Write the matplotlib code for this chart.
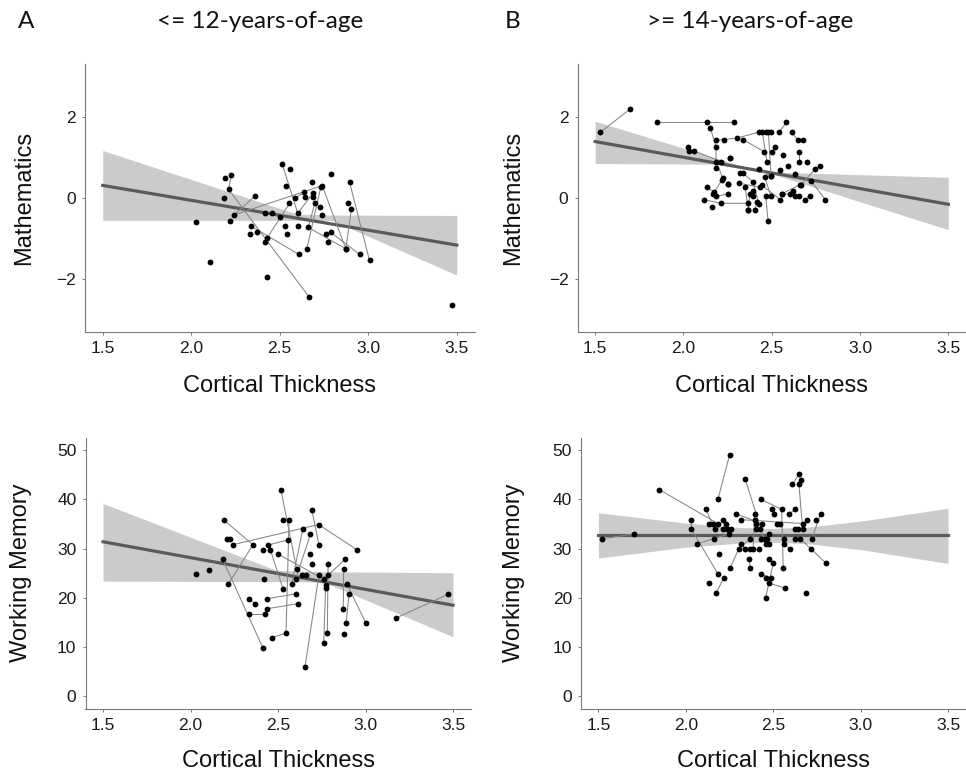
import matplotlib
matplotlib.use("Agg")
import matplotlib.pyplot as plt

# ---- data ----
# each inner list = one participant (1-3 visits, joined by a line)
young_math_x = [[2.226, 2.211, 2.664], [2.358, 2.241, 2.740, 2.873, 2.905], [2.732, 2.653],
                [2.337, 2.608], [2.427, 2.555], [2.514, 2.602, 2.689], [2.894, 3.007],
                [2.787, 2.952], [2.698, 2.661, 2.873], [2.585, 2.638],
                [2.029], [2.104], [2.188], [2.185], [2.217], [2.331], [2.369], [2.414],
                [2.426], [2.418], [2.454], [2.501], [2.559], [2.533], [2.531], [2.542],
                [2.604], [2.642], [2.681], [2.685], [2.726], [2.738], [2.787], [2.762],
                [2.770], [2.884], [3.471]]
young_math_y = [[0.568, 0.214, -2.428], [0.041, -0.420, 0.305, -1.251, -0.272], [0.272, -1.251],
                [-0.691, -1.391], [-0.996, -0.132], [0.831, -0.379, 0.132], [0.395, -1.539],
                [-0.840, -1.391], [-0.132, -0.724, -1.251], [-0.008, 0.140],
                [-0.593], [-1.564], [0.486], [0.008], [-0.568], [-0.897], [-0.840], [-1.078],
                [-1.951], [-0.379], [-0.379], [-0.461], [0.708], [0.296], [-0.691], [-0.889],
                [-0.691], [0.033], [0.387], [0.016], [-0.214], [-0.420], [0.584], [-0.881],
                [-1.078], [-0.132], [-2.626]]

old_math_x = [[1.528, 1.700], [1.850, 2.133, 2.285], [2.152, 2.185, 2.184],
              [2.187, 2.306, 2.428], [2.231], [2.027, 2.033], [2.061, 2.212], [2.265],
              [2.184, 2.223], [2.340, 2.457], [2.447, 2.472], [2.481, 2.496], [2.466], [2.496],
              [2.541, 2.583], [2.613, 2.647, 2.675], [2.521, 2.502], [2.564],
              [2.656, 2.656], [2.698], [2.592], [2.547], [2.428, 2.494],
              [2.771, 2.745, 2.666], [2.722, 2.803], [2.634], [2.216, 2.169], [2.253],
              [2.338, 2.393, 2.427], [2.319], [2.314, 2.434], [2.460, 2.496], [2.133, 2.174],
              [2.187, 2.255], [2.349, 2.368], [2.393], [2.445, 2.549],
              [2.116, 2.214, 2.366], [2.163], [2.376, 2.368], [2.404, 2.415], [2.479, 2.466],
              [2.558, 2.602, 2.622], [2.630, 2.654], [2.686, 2.717], [2.660, 2.558],
              [2.391], [2.265], [2.253]]
old_math_y = [[1.616, 2.196], [1.861, 1.861, 1.861], [1.722, 1.257, 0.751],
              [1.420, 1.478, 1.624], [1.420], [1.257, 1.159], [1.159, 0.898], [0.996],
              [0.898, 0.490], [1.429, 1.143], [1.624, 0.898], [1.624, 0.539], [1.624], [1.624],
              [1.616, 1.861], [1.616, 1.429, 1.429], [1.257, 1.143], [1.061],
              [1.135, 0.898], [0.898], [0.784], [0.686], [0.710, 0.539],
              [0.784, 0.710, 0.327], [0.424, -0.041], [0.596], [0.433, 0.106], [0.335],
              [0.612, 0.400, -0.139], [0.612], [0.367, 0.261], [0.514, 0.041], [0.261, 0.147],
              [0.041, 0.106], [0.261, -0.294], [0.180], [0.310, -0.041],
              [-0.041, -0.131, -0.131], [-0.229], [0.106, -0.294], [-0.294, -0.106], [-0.555, 0.041],
              [0.098, 0.098, 0.180], [0.041, 0.041], [-0.041, 0.041], [0.327, 0.106],
              [0.041], [0.996], [0.335]]

young_wm_x = [[2.517, 2.607], [2.563, 2.546, 2.464], [2.529], [2.694, 2.734],
              [2.241, 2.732, 2.950], [2.641, 2.578], [2.685, 2.601], [2.191, 2.357, 2.216],
              [2.209], [2.224], [2.557, 2.441], [2.414], [2.456, 2.529], [2.500, 2.761],
              [2.681], [2.184, 2.414], [2.031], [2.104], [2.418], [2.639], [2.662],
              [2.654, 2.734], [2.788, 2.883], [2.875, 2.873], [2.786, 2.782], [2.772, 2.761],
              [2.894, 3.003], [2.906, 2.889], [2.875], [2.334, 2.369], [2.435, 2.601],
              [2.439, 2.612], [2.336, 2.428], [2.694], [3.174, 3.471], [2.772]]
young_wm_y = [[41.9, 25.8], [35.8, 12.8, 11.9], [35.8], [37.8, 30.8],
              [30.8, 34.9, 29.8], [33.9, 22.8], [32.9, 23.8], [35.8, 30.8, 22.8],
              [31.9], [31.9], [31.8, 30.7], [29.8], [29.8, 21.8], [28.9, 23.8],
              [28.9], [27.8, 9.8], [24.8], [25.7], [23.8], [24.7], [24.7],
              [5.9, 24.7], [24.7, 27.8], [25.8, 17.8], [26.8, 12.8], [21.9, 10.8],
              [22.8, 14.8], [20.7, 14.8], [12.7], [19.8, 18.8], [19.8, 20.8],
              [17.8, 18.8], [16.8, 16.8], [26.8], [15.9, 20.7], [22.7]]

old_wm_x = [[1.523, 1.702], [1.849, 2.183], [2.25, 2.183], [2.031, 2.031, 2.183],
            [2.115, 2.164], [2.132, 2.155], [2.214, 2.227, 2.256], [2.212, 2.233],
            [2.162], [2.065, 2.246], [2.189], [2.216, 2.172], [2.132],
            [2.252, 2.303, 2.368], [2.286, 2.435], [2.340, 2.456], [2.393, 2.385],
            [2.393], [2.399, 2.403], [2.427], [2.431, 2.548, 2.557], [2.494], [2.502],
            [2.519, 2.540], [2.592, 2.626], [2.609, 2.647], [2.647, 2.668], [2.660],
            [2.695], [2.742], [2.771, 2.721], [2.622], [2.641], [2.315, 2.672],
            [2.315, 2.340], [2.368], [2.418], [2.431], [2.454], [2.464], [2.477],
            [2.559, 2.597], [2.626], [2.655, 2.803], [2.718], [2.363, 2.368], [2.475],
            [2.500, 2.456], [2.429, 2.489], [2.456], [2.477, 2.565], [2.685], [2.559],
            [2.477]]
old_wm_y = [[32.0, 33.0], [42.0, 35.1], [49.0, 40.0], [35.9, 34.0, 24.9],
            [38.0, 34.0], [35.1, 35.1], [35.9, 35.1, 34.0], [34.0, 34.0],
            [32.0], [31.0, 33.0], [29.0], [24.0, 20.9], [23.0],
            [26.0, 30.0, 32.0], [37.1, 35.1], [44.1, 31.0], [37.1, 30.0],
            [35.9], [35.1, 34.0], [34.0], [40.0, 38.0, 26.0], [38.0], [37.1],
            [35.1, 35.1], [37.1, 38.0], [43.1, 45.1], [43.1, 34.0], [43.9],
            [35.9], [35.9], [37.1, 32.0], [34.0], [34.0], [35.9, 35.1],
            [31.0, 30.0], [30.0], [30.0], [32.0], [32.0], [32.0], [31.0],
            [31.0, 30.0], [32.0], [32.0, 27.0], [30.0], [27.9, 26.0], [27.9],
            [27.0, 20.0], [24.9, 24.0], [24.0], [23.0, 22.0], [20.9], [32.0],
            [33.0]]

# regression lines and confidence bands
fit_x = [1.5, 3.5]
young_math_fit = [0.31, -1.16]
old_math_fit = [1.39, -0.155]
young_wm_fit = [31.4, 18.5]
old_wm_fit = [32.7, 32.7]

young_math_band_x = [1.5, 2.6, 2.8, 3.5]
young_math_band_hi = [1.17, -0.40, -0.42, -0.43]
young_math_band_lo = [-0.55, -0.55, -0.56, -1.90]

old_math_band_x = [1.5, 2.24, 2.41, 3.5]
old_math_band_hi = [1.89, 0.91, 0.65, 0.51]
old_math_band_lo = [0.85, 0.83, 0.72, -0.78]

young_wm_band_x = [1.5, 2.49, 2.76, 3.5]
young_wm_band_hi = [39.2, 25.6, 25.3, 25.1]
young_wm_band_lo = [23.4, 23.3, 23.2, 12.1]

old_wm_band_x = [1.5, 2.0, 2.3, 2.5, 2.7, 3.0, 3.5]
old_wm_band_hi = [37.3, 35.2, 34.3, 34.1, 34.4, 35.6, 38.2]
old_wm_band_lo = [28.1, 30.3, 31.1, 31.3, 31.0, 29.8, 27.0]

W, H = 966, 775
fig = plt.figure(figsize=(W / 100, H / 100), dpi=100)
plt.rcParams["font.family"] = ["Liberation Sans", "DejaVu Sans"]


def px_axes(l, t, r, b):
    return fig.add_axes([l / W, 1 - b / H, (r - l) / W, (b - t) / H])


def panel(ax, xs, ys, fit, bx, bhi, blo, ylabel, ylim, yticks, ylab_x, xlab_y):
    ax.fill_between(bx, blo, bhi, color="#cbcbcb", linewidth=0, zorder=1)
    ax.plot(fit_x, fit, color="#5a5a5a", lw=2.3, zorder=2)
    for sx, sy in zip(xs, ys):
        if len(sx) > 1:
            ax.plot(sx, sy, color="#858585", lw=0.75, zorder=3)
        ax.plot(sx, sy, "o", color="black", ms=4.2, mew=0, zorder=4)
    ax.set_xlim(1.4, 3.6)
    ax.set_ylim(*ylim)
    ax.set_xticks([1.5, 2.0, 2.5, 3.0, 3.5])
    ax.set_xticklabels(["1.5", "2.0", "2.5", "3.0", "3.5"])
    ax.set_yticks(yticks)
    ax.set_yticklabels(["\u22122" if t == -2 else str(t) for t in yticks])
    for s in ["top", "right"]:
        ax.spines[s].set_visible(False)
    for s in ["left", "bottom"]:
        ax.spines[s].set_color("#7a7a7a")
        ax.spines[s].set_linewidth(0.8)
    ax.tick_params(length=2.5, width=0.7, color="#7a7a7a", labelsize=12.5,
                   labelcolor="#1a1a1a", pad=4)
    ax.set_xlabel("Cortical Thickness", fontsize=17, color="#111111")
    ax.xaxis.set_label_coords(0.5, xlab_y)
    ax.set_ylabel(ylabel, fontsize=17, color="#111111")
    ax.yaxis.set_label_coords(ylab_x, 0.5)


ax1 = px_axes(85, 64, 474.5, 332)
panel(ax1, young_math_x, young_math_y, young_math_fit, young_math_band_x,
      young_math_band_hi, young_math_band_lo, "Mathematics", (-3.3, 3.3), [-2, 0, 2],
      -0.128, -0.16)

ax2 = px_axes(577.5, 64, 966, 332)
panel(ax2, old_math_x, old_math_y, old_math_fit, old_math_band_x,
      old_math_band_hi, old_math_band_lo, "Mathematics", (-3.3, 3.3), [-2, 0, 2],
      -0.137, -0.16)

ax3 = px_axes(85.5, 438, 470.5, 708.5)
panel(ax3, young_wm_x, young_wm_y, young_wm_fit, young_wm_band_x,
      young_wm_band_hi, young_wm_band_lo, "Working Memory", (-2.5, 52.5),
      [0, 10, 20, 30, 40, 50], -0.138, -0.155)

ax4 = px_axes(581, 438, 965.5, 708.5)
panel(ax4, old_wm_x, old_wm_y, old_wm_fit, old_wm_band_x,
      old_wm_band_hi, old_wm_band_lo, "Working Memory", (-2.5, 52.5),
      [0, 10, 20, 30, 40, 50], -0.145, -0.155)

# panel letters and group titles
hdr = dict(fontsize=17.5, color="#111111", va="center", family=["Lato", "DejaVu Sans"])
fig.text(18 / W, 1 - 21 / H, "A", ha="left", **hdr)
fig.text(260 / W, 1 - 21 / H, "<= 12-years-of-age", ha="center", **hdr)
fig.text(505 / W, 1 - 21 / H, "B", ha="left", **hdr)
fig.text(750 / W, 1 - 21 / H, ">= 14-years-of-age", ha="center", **hdr)

fig.savefig("out.png", dpi=100)
